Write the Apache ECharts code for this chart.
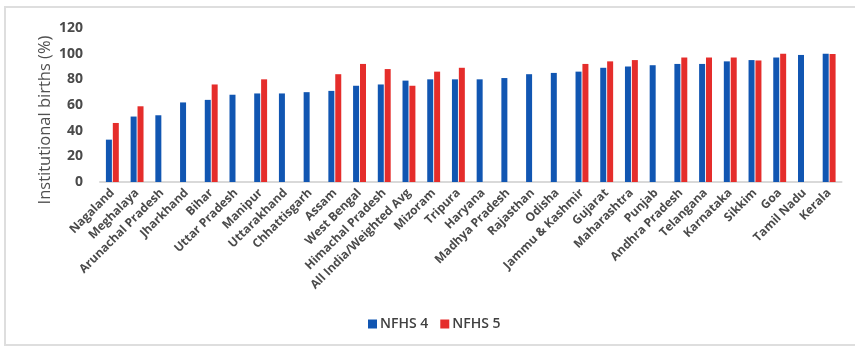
<!DOCTYPE html>
<html>
<head>
<meta charset="utf-8">
<script src="https://cdn.jsdelivr.net/npm/echarts@6/dist/echarts.min.js"></script>
<style>
  html, body { margin: 0; padding: 0; background: #fff; }
  #chart { width: 855px; height: 346px; }
</style>
</head>
<body>
<div id="chart"></div>
<script>
// States ordered by NFHS 4 institutional birth share
const states = [
  'Nagaland', 'Meghalaya', 'Arunachal Pradesh', 'Jharkhand', 'Bihar', 'Uttar Pradesh',
  'Manipur', 'Uttarakhand', 'Chhattisgarh', 'Assam', 'West Bengal', 'Himachal Pradesh',
  'All India/Weighted Avg', 'Mizoram', 'Tripura', 'Haryana', 'Madhya Pradesh', 'Rajasthan',
  'Odisha', 'Jammu & Kashmir', 'Gujarat', 'Maharashtra', 'Punjab', 'Andhra Pradesh',
  'Telangana', 'Karnataka', 'Sikkim', 'Goa', 'Tamil Nadu', 'Kerala'
];

// NFHS 4 (2015-16), percent
const nfhs4 = [
  33, 51, 52, 62, 64, 68,
  69, 69, 70, 71, 75, 76,
  79, 80, 80, 80, 81, 84,
  85, 86, 89, 90, 91, 92,
  92, 94, 95, 97, 99, 100
];

// NFHS 5 (2019-20), percent; states not yet surveyed are null
const nfhs5 = [
  46, 59, null, null, 76, null,
  80, null, null, 84, 92, 88,
  75, 86, 89, null, null, null,
  null, 92, 94, 95, null, 97,
  97, 97, 94.7, 100, null, 99.8
];

const yTicks = { min: 0, max: 120, interval: 20 };

const chart = echarts.init(document.getElementById('chart'));
chart.setOption({
  animation: false,
  backgroundColor: '#ffffff',
  grid: { left: 100, right: 13.5, top: 28, bottom: 164 },
  legend: {
    data: ['NFHS 4', 'NFHS 5'],
    left: 363, top: 312,
    itemWidth: 9, itemHeight: 9, itemGap: 12,
    icon: 'rect',
    textStyle: { fontFamily: 'Open Sans', fontSize: 14, fontWeight: 600, color: '#404040', padding: [0, 0, 0, -2] }
  },
  xAxis: {
    type: 'category',
    data: states,
    axisLine: { lineStyle: { color: '#d9d9d9', width: 2 } },
    axisTick: { show: false },
    axisLabel: {
      interval: 0, rotate: 45, margin: 9,
      fontFamily: 'Open Sans', fontSize: 12, fontWeight: 700, color: '#4a4a4a'
    }
  },
  yAxis: {
    type: 'value',
    min: yTicks.min, max: yTicks.max, interval: yTicks.interval,
    splitLine: { show: false },
    axisLine: { show: false },
    axisTick: { show: false },
    axisLabel: {
      margin: 17,
      fontFamily: 'Open Sans', fontSize: 14, fontWeight: 700, color: '#4a4a4a'
    }
  },
  series: [
    {
      name: 'NFHS 4', type: 'bar', data: nfhs4,
      barWidth: 6, barGap: '15%',
      itemStyle: { color: '#1156b2' }
    },
    {
      name: 'NFHS 5', type: 'bar', data: nfhs5,
      barWidth: 6,
      itemStyle: { color: '#e52d2b' }
    }
  ],
  graphic: [
    {
      type: 'rect', silent: true,
      shape: { x: 5, y: 7, width: 860, height: 338 },
      style: { fill: null, stroke: '#dedede', lineWidth: 2 }
    },
    {
      type: 'text', silent: true,
      x: 45, y: 120, rotation: Math.PI / 2,
      style: {
        text: 'Institutional births (%)',
        fontFamily: 'Open Sans', fontSize: 16.5, fill: '#505050',
        textAlign: 'center', textVerticalAlign: 'middle'
      }
    }
  ]
});
</script>
</body>
</html>
